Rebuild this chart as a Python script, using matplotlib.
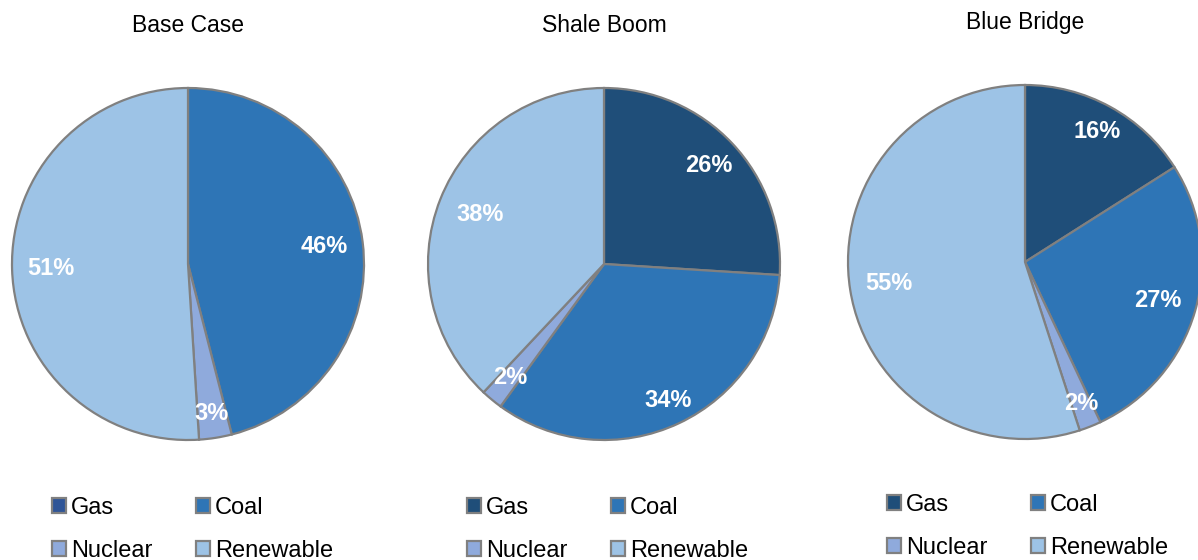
import numpy as np
import matplotlib.pyplot as plt
from matplotlib.patches import Patch

plt.rcParams['font.family'] = ['Liberation Sans', 'DejaVu Sans']

# generation mix by scenario (%)
sources = ['Gas', 'Coal', 'Nuclear', 'Renewable']
scenarios = ['Base Case', 'Shale Boom', 'Blue Bridge']
base_case = [0, 46, 3, 51]
shale_boom = [26, 34, 2, 38]
blue_bridge = [16, 27, 2, 55]
shares = [base_case, shale_boom, blue_bridge]

# how far out each % label sits (fraction of radius)
label_r = [
    [0.8, 0.78, 0.86, 0.78],
    [0.82, 0.86, 0.84, 0.76],
    [0.84, 0.78, 0.86, 0.78],
]

colors = ['#1F4E79', '#2E75B6', '#8FAADC', '#9DC3E6']
base_colors = ['#2F5597', '#2E75B6', '#8FAADC', '#9DC3E6']
edge = '#808080'

W, H = 1198, 560
fig = plt.figure(figsize=(W / 100, H / 100), dpi=100)

# pie centre (px), radius (px), title y (px), legend top-left (px)
layout = [
    ((188, 264), 176, 26, (52, 497)),
    ((604, 264), 176, 26, (467, 497)),
    ((1025, 262), 177, 22, (887, 494)),
]

for name, vals, (c, r, ty, lg), i in zip(scenarios, shares, layout, range(3)):
    cx, cy = c
    ax = fig.add_axes([(cx - r) / W, (H - cy - r) / H, 2 * r / W, 2 * r / H])
    cols = base_colors if i == 0 else colors
    wedges, texts, autotexts = ax.pie(
        vals, colors=cols, startangle=90, counterclock=False,
        autopct=lambda p: f'{p:.0f}%' if p > 0.5 else '',
        pctdistance=0.8,
        wedgeprops=dict(edgecolor=edge, linewidth=1.6),
        textprops=dict(color='white', fontsize=17, fontweight='bold'))
    for w, t, d in zip(wedges, autotexts, label_r[i]):
        w.set_clip_on(False)
        a = np.deg2rad((w.theta1 + w.theta2) / 2)
        t.set_position((d * np.cos(a), d * np.sin(a)))
    ax.set_xlim(-1, 1)
    ax.set_ylim(-1, 1)
    ax.set_aspect('equal')
    ax.axis('off')

    fig.text(cx / W, 1 - ty / H, name, ha='center', va='center', fontsize=16.5)

    handles = [Patch(facecolor=cols[k], edgecolor=edge, linewidth=1.6) for k in range(4)]
    order = [0, 2, 1, 3]
    fig.legend([handles[k] for k in order], [sources[k] for k in order],
               loc='upper left', bbox_to_anchor=(lg[0] / W, 1 - lg[1] / H),
               ncol=2, frameon=False, fontsize=17, borderpad=0, borderaxespad=0,
               handlelength=0.6, handleheight=0.6, handletextpad=0.2,
               columnspacing=1.85, labelspacing=0.9)

fig.savefig('out.png', dpi=100)
